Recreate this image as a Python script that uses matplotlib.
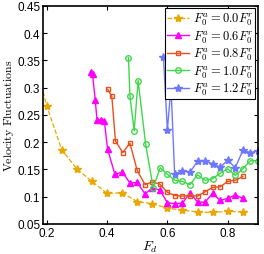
import numpy as np
import matplotlib
matplotlib.use("Agg")
import matplotlib.pyplot as plt

plt.rcParams['mathtext.fontset'] = 'cm'
plt.rcParams['font.family'] = 'Liberation Sans'

# =========================
# DATA
# =========================

fd_00 = [0.15, 0.2, 0.25, 0.3, 0.35, 0.4, 0.45, 0.5, 0.55, 0.6, 0.65, 0.7, 0.75, 0.8, 0.85]
v_00 = [0.375, 0.267, 0.186, 0.151, 0.128, 0.106, 0.107, 0.091, 0.087, 0.079, 0.075, 0.072, 0.071, 0.073, 0.072]

fd_06 = [0.348, 0.352, 0.361, 0.367, 0.38, 0.391, 0.402, 0.426, 0.451, 0.476, 0.5, 0.526,
         0.55, 0.575, 0.6, 0.625, 0.65, 0.675, 0.7, 0.725, 0.75, 0.775, 0.8, 0.825, 0.85]
v_06 = [0.329, 0.325, 0.277, 0.240, 0.241, 0.239, 0.187, 0.141, 0.145, 0.125, 0.126, 0.105,
        0.116, 0.112, 0.089, 0.087, 0.088, 0.107, 0.090, 0.090, 0.106, 0.093, 0.097, 0.103, 0.097]

fd_08 = [0.402, 0.416, 0.428, 0.452, 0.476, 0.5, 0.526, 0.55, 0.575, 0.6, 0.625, 0.65,
         0.675, 0.7, 0.725, 0.75, 0.775, 0.8, 0.825, 0.85]
v_08 = [0.297, 0.284, 0.202, 0.181, 0.198, 0.148, 0.122, 0.127, 0.123, 0.108, 0.102, 0.101,
        0.102, 0.101, 0.109, 0.117, 0.118, 0.128, 0.130, 0.137]

fd_10 = [0.471, 0.476, 0.49, 0.503, 0.528, 0.553, 0.576, 0.6, 0.625, 0.65, 0.675, 0.7,
         0.725, 0.75, 0.775, 0.8, 0.825, 0.85, 0.875, 0.9]
v_10 = [0.355, 0.284, 0.221, 0.313, 0.196, 0.116, 0.153, 0.141, 0.130, 0.128, 0.122, 0.140,
        0.130, 0.133, 0.143, 0.151, 0.139, 0.151, 0.166, 0.166]

fd_12 = [0.587, 0.6, 0.612, 0.624, 0.65, 0.675, 0.7, 0.725, 0.75, 0.775, 0.8, 0.825, 0.85, 0.875, 0.9]
v_12 = [0.357, 0.222, 0.301, 0.142, 0.147, 0.145, 0.165, 0.166, 0.160, 0.154, 0.167, 0.153, 0.185, 0.181, 0.184]

labels = [r'$F_0^a = 0.0F_0^r$', r'$F_0^a = 0.6F_0^r$', r'$F_0^a = 0.8F_0^r$',
          r'$F_0^a = 1.0F_0^r$', r'$F_0^a = 1.2F_0^r$']

# =========================
# PLOT
# =========================

fig = plt.figure(figsize=(2.64, 2.55), dpi=100)
ax = fig.add_axes([0.163, 0.118, 0.814, 0.855])

ax.plot(fd_00, v_00, '--', color='#E8A800', marker='*', markersize=6, lw=0.9, label=labels[0])
ax.plot(fd_06, v_06, '-', color='#FF00FF', marker='^', markersize=4.5, lw=1.0, label=labels[1])
ax.plot(fd_08, v_08, '-', color='#E8501E', marker='s', markersize=3.5, lw=1.0,
        markerfacecolor='none', markeredgewidth=1.0, label=labels[2])
ax.plot(fd_10, v_10, '-', color='#3FD84A', marker='o', markersize=4, lw=1.0,
        markerfacecolor='none', markeredgewidth=1.0, label=labels[3])
ax.plot(fd_12, v_12, '-', color='#6E78FF', marker='*', markersize=6, lw=1.0, label=labels[4])

ax.set_xlim(0.188, 0.9)
ax.set_ylim(0.05, 0.45)
ax.set_xticks([0.2, 0.4, 0.6, 0.8])
ax.set_yticks([0.05, 0.1, 0.15, 0.2, 0.25, 0.3, 0.35, 0.4, 0.45])
ax.set_yticklabels(['0.05', '0.1', '0.15', '0.2', '0.25', '0.3', '0.35', '0.4', '0.45'])
ax.tick_params(direction='in', top=True, right=True, labelsize=8.5, length=3, width=0.8, pad=2)
for s in ax.spines.values():
    s.set_linewidth(1.2)

ax.set_xlabel(r'$F_d$', fontsize=10, labelpad=0)
ax.set_ylabel(r'$\mathrm{Velocity\ Fluctuations}$', fontsize=8.5, labelpad=1)

leg = ax.legend(loc='upper right', fontsize=9, fancybox=False, framealpha=1,
                edgecolor='black', borderpad=0.15, labelspacing=0.05,
                handlelength=1.8, handletextpad=0.3, borderaxespad=0.2)
leg.get_frame().set_linewidth(0.8)

plt.savefig('out.png', dpi=100)
